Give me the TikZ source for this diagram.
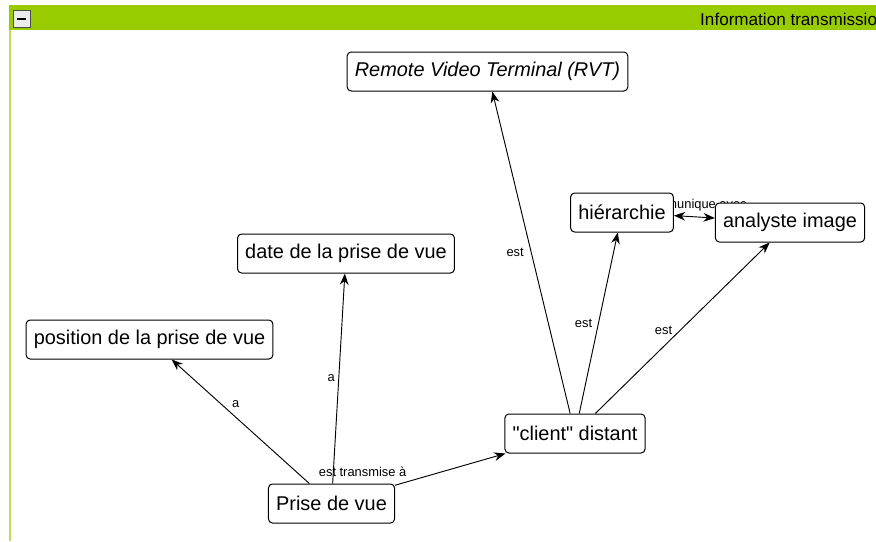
\documentclass[tikz,border=0pt]{standalone}
\usepackage{fontspec}
\setmainfont{Liberation Sans}[Ligatures=TeXOff]
\usetikzlibrary{arrows.meta,backgrounds}

\definecolor{barGreen}{RGB}{153,204,0}
\definecolor{borderGreen}{RGB}{190,222,90}

\tikzset{
  >={Stealth[length=3.4mm,width=2.6mm]},
  concept/.style={draw, line width=0.3mm, rounded corners=1.2mm, fill=white,
    minimum height=11.7mm, inner xsep=2.3mm, font=\fontsize{17}{18}\selectfont},
  link/.style={line width=0.28mm, ->},
  linkLabel/.style={font=\fontsize{11}{12}\selectfont, inner sep=1pt},
}

\begin{document}
\begin{tikzpicture}[x=0.3mm,y=-0.3mm]
  \useasboundingbox (0,0) rectangle (876,541);
  \clip (0,0) rectangle (876,541);

  % Header bar
  \fill[barGreen] (9,5) rectangle (876,30);
  \draw[line width=0.6mm, borderGreen] (10,30) -- (10,541);
  \draw[fill=gray!15, draw=gray!60!black, line width=0.3mm] (13,10) rectangle (30,27);
  \draw[line width=0.6mm] (17,18.5) -- (26,18.5);
  \node[anchor=west, inner sep=0pt, font=\fontsize{14.6}{16}\selectfont] (title) at (700,19) {Information transmission};

  % Concepts
  \node[concept, font=\fontsize{17}{18}\selectfont\itshape] (rvt) at (487.5,71.5) {Remote Video Terminal (RVT)};
  \node[concept] (hierarchie) at (622,212.5) {hiérarchie};
  \node[concept] (analyste) at (790,222.5) {analyste image};
  \node[concept] (date) at (346,253.5) {date de la prise de vue};
  \node[concept] (position) at (149.5,339.5) {position de la prise de vue};
  \node[concept] (client) at (575,433.5) {"client" distant};
  \node[concept] (prise) at (331.5,503.5) {Prise de vue};

  % Links
  \begin{scope}[on background layer]
    \draw[link] (prise) -- node[linkLabel, pos=0.64, above right, xshift=8pt, yshift=-4pt] {a} (position);
    \draw[link] (prise) -- node[linkLabel, pos=0.5, left, xshift=-2pt] {a} (date);
    \draw[link] (prise) -- node[linkLabel, pos=0, anchor=south east, xshift=11pt, yshift=6pt] {est transmise à} (client);
    \draw[link] (client) -- node[linkLabel, pos=0.5, left, xshift=-5pt] {est} (rvt);
    \draw[link] (client) -- node[linkLabel, pos=0.5, left, xshift=-4pt] {est} (hierarchie);
    \draw[link] (client) -- node[linkLabel, pos=0.49, left, xshift=-6pt, yshift=-1pt] {est} (analyste);
    \draw[link, <->] (hierarchie) -- node[linkLabel, pos=0.5, above, yshift=3pt] {communique avec} (analyste);
  \end{scope}
\end{tikzpicture}
\end{document}
